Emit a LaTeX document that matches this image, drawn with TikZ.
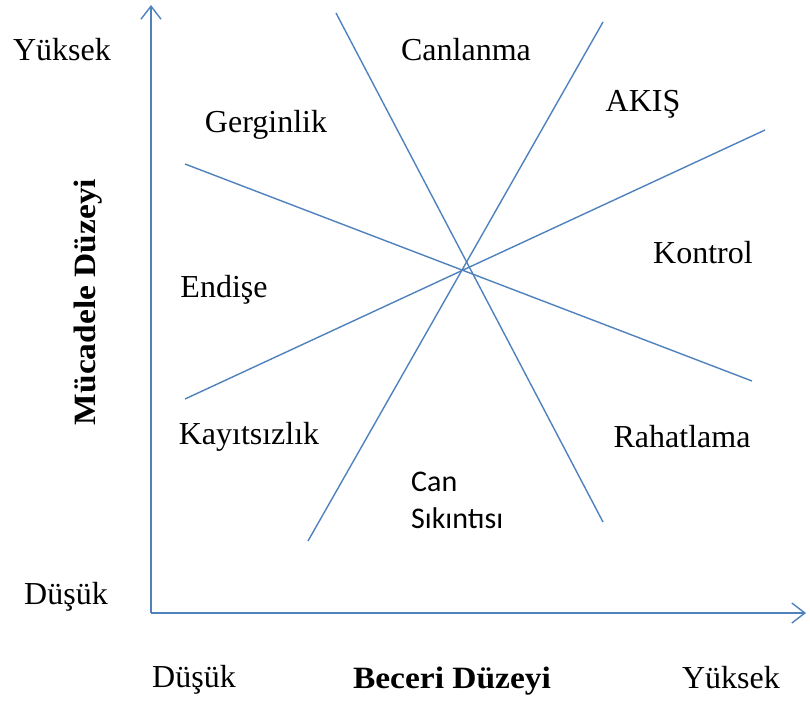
\documentclass[tikz,border=0pt]{standalone}
\usepackage{fontspec}
\setmainfont{Liberation Serif}
\newfontfamily\carlitofam{Carlito}
\newfontfamily\boldlbl[FakeStretch=1.08]{Liberation Serif}
\usetikzlibrary{arrows.meta}
\definecolor{axisblue}{RGB}{79,129,189}
\tikzset{
  axisline/.style={draw=axisblue, line width=1.4pt, -{Straight Barb[length=13pt,width=20pt,line width=1.4pt]}},
  zoneline/.style={draw=axisblue, line width=1.4pt},
  lbl/.style={font=\fontsize{32}{38}\selectfont, inner sep=0pt, anchor=center},
  axlbl/.style={font=\boldlbl\bfseries\fontsize{31}{37}\selectfont, inner sep=0pt, anchor=center},
  sanslbl/.style={font=\carlitofam\fontsize{30}{36}\selectfont, inner sep=0pt, anchor=base west}
}
\begin{document}
\begin{tikzpicture}[x=1pt,y=-1pt]
\useasboundingbox (0,0) rectangle (810,705);
% axes
\coordinate (O) at (151,613);
\coordinate (Ytop) at (151,5);
\coordinate (Xend) at (806,613);
\draw[axisline] (O) -- (Ytop);
\draw[axisline] (O) -- (Xend);
% zone lines
\coordinate (A1) at (336,13);
\coordinate (A2) at (603,522);
\coordinate (B1) at (603,22);
\coordinate (B2) at (308,541);
\coordinate (C1) at (185,164);
\coordinate (C2) at (752,381);
\coordinate (D1) at (185,399);
\coordinate (D2) at (765,130);
\draw[zoneline] (A1) -- (A2);
\draw[zoneline] (B1) -- (B2);
\draw[zoneline] (C1) -- (C2);
\draw[zoneline] (D1) -- (D2);
% axis labels
\node[lbl] (yhigh) at (62,50) {Yüksek};
\node[lbl] (ylow) at (66,597) {Düşük};
\node[lbl] (xlow) at (194,680) {Düşük};
\node[lbl] (xhigh) at (731,678) {Yüksek};
\node[axlbl] (xtitle) at (452,681) {Beceri Düzeyi};
\node[axlbl, rotate=90] (ytitle) at (88,302) {Mücadele Düzeyi};
% zone labels
\node[lbl] (canlanma) at (466,50) {Canlanma};
\node[lbl] (akis) at (643,104) {AKIŞ};
\node[lbl] (gerginlik) at (266,125) {Gerginlik};
\node[lbl] (kontrol) at (703,253) {Kontrol};
\node[lbl] (endise) at (224,290) {Endişe};
\node[lbl] (kayitsizlik) at (249,437) {Kayıtsızlık};
\node[lbl] (rahatlama) at (682,437) {Rahatlama};
\node[sanslbl] (can) at (411,491) {Can};
\node[sanslbl] (sikinti) at (411,528) {Sıkıntısı};
\end{tikzpicture}
\end{document}
